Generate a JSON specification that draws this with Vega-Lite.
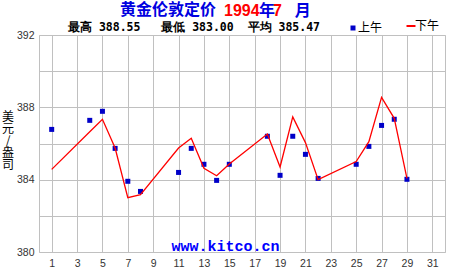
{
  "$schema": "https://vega.github.io/schema/vega-lite/v6.json",
  "width": 406,
  "height": 217,
  "autosize": {"type": "none"},
  "padding": {"left": 39, "top": 35, "right": 5, "bottom": 23},
  "background": "white",
  "config": {"view": {"stroke": null}},
  "title": {
    "text": "黄金伦敦定价",
    "anchor": "start",
    "frame": "group",
    "dx": 81,
    "offset": -28.5,
    "baseline": "alphabetic",
    "font": "Noto Sans CJK SC",
    "fontSize": 16,
    "fontWeight": "bold",
    "color": "#0000e0"
  },
  "data": {
    "values": [
      {"day": 1, "session": "上午", "price": 386.78},
      {"day": 4, "session": "上午", "price": 387.28},
      {"day": 5, "session": "上午", "price": 387.78},
      {"day": 6, "session": "上午", "price": 385.73},
      {"day": 7, "session": "上午", "price": 383.91},
      {"day": 8, "session": "上午", "price": 383.35},
      {"day": 11, "session": "上午", "price": 384.40},
      {"day": 12, "session": "上午", "price": 385.73},
      {"day": 13, "session": "上午", "price": 384.85},
      {"day": 14, "session": "上午", "price": 383.96},
      {"day": 15, "session": "上午", "price": 384.85},
      {"day": 18, "session": "上午", "price": 386.40},
      {"day": 19, "session": "上午", "price": 384.24},
      {"day": 20, "session": "上午", "price": 386.40},
      {"day": 21, "session": "上午", "price": 385.40},
      {"day": 22, "session": "上午", "price": 384.07},
      {"day": 25, "session": "上午", "price": 384.85},
      {"day": 26, "session": "上午", "price": 385.84},
      {"day": 27, "session": "上午", "price": 387.00},
      {"day": 28, "session": "上午", "price": 387.34},
      {"day": 29, "session": "上午", "price": 384.02},
      {"day": 1, "session": "下午", "price": 384.57},
      {"day": 4, "session": "下午", "price": 386.65},
      {"day": 5, "session": "下午", "price": 387.34},
      {"day": 6, "session": "下午", "price": 385.75},
      {"day": 7, "session": "下午", "price": 383.00},
      {"day": 8, "session": "下午", "price": 383.17},
      {"day": 11, "session": "下午", "price": 385.75},
      {"day": 12, "session": "下午", "price": 386.29},
      {"day": 13, "session": "下午", "price": 384.63},
      {"day": 14, "session": "下午", "price": 384.22},
      {"day": 15, "session": "下午", "price": 384.87},
      {"day": 18, "session": "下午", "price": 386.52},
      {"day": 19, "session": "下午", "price": 384.70},
      {"day": 20, "session": "下午", "price": 387.47},
      {"day": 21, "session": "下午", "price": 386.05},
      {"day": 22, "session": "下午", "price": 384.00},
      {"day": 25, "session": "下午", "price": 385.00},
      {"day": 26, "session": "下午", "price": 386.10},
      {"day": 27, "session": "下午", "price": 388.55},
      {"day": 28, "session": "下午", "price": 387.39},
      {"day": 29, "session": "下午", "price": 384.07}
    ]
  },
  "layer": [
    {
      "transform": [{"filter": "datum.session === '上午'"}],
      "mark": {"type": "square", "size": 25, "opacity": 1},
      "encoding": {
        "x": {
          "field": "day",
          "type": "quantitative",
          "scale": {"domain": [0, 32], "nice": false, "zero": false},
          "axis": {
            "orient": "bottom",
            "values": [1, 3, 5, 7, 9, 11, 13, 15, 17, 19, 21, 23, 25, 27, 29, 31],
            "grid": true,
            "gridColor": "#c0c0c0",
            "domain": true,
            "domainColor": "#c0c0c0",
            "ticks": false,
            "tickSize": 0,
            "labelFont": "Liberation Sans",
            "labelFontSize": 10.5,
            "labelColor": "#333333",
            "labelPadding": 6,
            "labelFlush": false,
            "labelOverlap": false,
            "title": "www.kitco.cn",
            "titleX": 186,
            "titleY": -1.5,
            "titleAlign": "center",
            "titleBaseline": "alphabetic",
            "titleFont": "Liberation Mono",
            "titleFontSize": 15,
            "titleFontWeight": "bold",
            "titleColor": "#0000ff"
          }
        },
        "y": {
          "field": "price",
          "type": "quantitative",
          "scale": {"domain": [380, 392], "nice": false, "zero": false},
          "axis": {
            "orient": "left",
            "values": [380, 382, 384, 386, 388, 390, 392],
            "grid": true,
            "gridColor": "#c0c0c0",
            "domain": true,
            "domainColor": "#c0c0c0",
            "ticks": false,
            "tickSize": 0,
            "labelExpr": "datum.value % 4 === 0 ? datum.label : ''",
            "labelFont": "Liberation Sans",
            "labelFontSize": 10.5,
            "labelColor": "#333333",
            "labelPadding": 5,
            "labelFlush": false,
            "title": ["美", "元", "/", "盎", "司"],
            "titleAngle": 0,
            "titleX": -31.5,
            "titleY": 76,
            "titleAlign": "center",
            "titleBaseline": "top",
            "titleFont": "Noto Sans CJK SC",
            "titleFontSize": 12,
            "titleFontWeight": "normal",
            "titleLineHeight": 12,
            "titleColor": "black"
          }
        },
        "color": {
          "field": "session",
          "type": "nominal",
          "scale": {"domain": ["上午"], "range": ["#0000c8"]},
          "legend": {
            "orient": "none",
            "legendX": 29,
            "legendY": -13,
            "direction": "horizontal",
            "padding": 0,
            "title": "最高 388.55 \u00a0\u00a0最低 383.00 \u00a0平均 385.47",
            "titleOrient": "left",
            "titlePadding": 26,
            "titleFont": "DejaVu Sans Mono",
            "titleFontSize": 11.5,
            "titleFontWeight": "bold",
            "titleColor": "black",
            "titleLimit": 500,
            "titleBaseline": "middle",
            "labelFont": "Noto Sans CJK SC",
            "labelFontSize": 12,
            "labelColor": "black",
            "labelOffset": -1,
            "symbolType": "square",
            "symbolSize": 25,
            "symbolStrokeWidth": 0,
            "symbolOpacity": 1
          }
        }
      }
    },
    {
      "transform": [{"filter": "datum.session === '下午'"}],
      "mark": {"type": "line", "strokeWidth": 1.3},
      "encoding": {
        "x": {
          "field": "day",
          "type": "quantitative",
          "axis": {
            "orient": "top",
            "grid": false,
            "labels": false,
            "ticks": false,
            "domain": true,
            "domainColor": "#c0c0c0",
            "title": "1994 \u00a0 7",
            "titleX": 184.5,
            "titleY": -20,
            "titleAlign": "left",
            "titleBaseline": "alphabetic",
            "titleFont": "Liberation Sans",
            "titleFontSize": 16,
            "titleFontWeight": "bold",
            "titleColor": "#ff0000"
          }
        },
        "y": {
          "field": "price",
          "type": "quantitative",
          "axis": {
            "orient": "right",
            "grid": false,
            "labels": false,
            "ticks": false,
            "domain": true,
            "domainColor": "#c0c0c0",
            "title": "年\u3000\u00a0月",
            "titleAngle": 0,
            "titleX": -186.5,
            "titleY": -20,
            "titleAlign": "left",
            "titleBaseline": "alphabetic",
            "titleFont": "Noto Sans CJK SC",
            "titleFontSize": 16,
            "titleFontWeight": "bold",
            "titleColor": "#0000e0"
          }
        },
        "color": {
          "field": "session",
          "type": "nominal",
          "scale": {"domain": ["下午"], "range": ["#ff0000"]},
          "legend": {
            "orient": "none",
            "legendX": 366,
            "legendY": -15,
            "direction": "horizontal",
            "padding": 0,
            "title": null,
            "labelFont": "Noto Sans CJK SC",
            "labelFontSize": 12,
            "labelColor": "black",
            "labelOffset": -2,
            "symbolType": "stroke",
            "symbolSize": 81,
            "symbolStrokeWidth": 2,
            "symbolOpacity": 1
          }
        }
      }
    }
  ],
  "resolve": {
    "scale": {"color": "independent"},
    "axis": {"x": "independent", "y": "independent"}
  }
}
